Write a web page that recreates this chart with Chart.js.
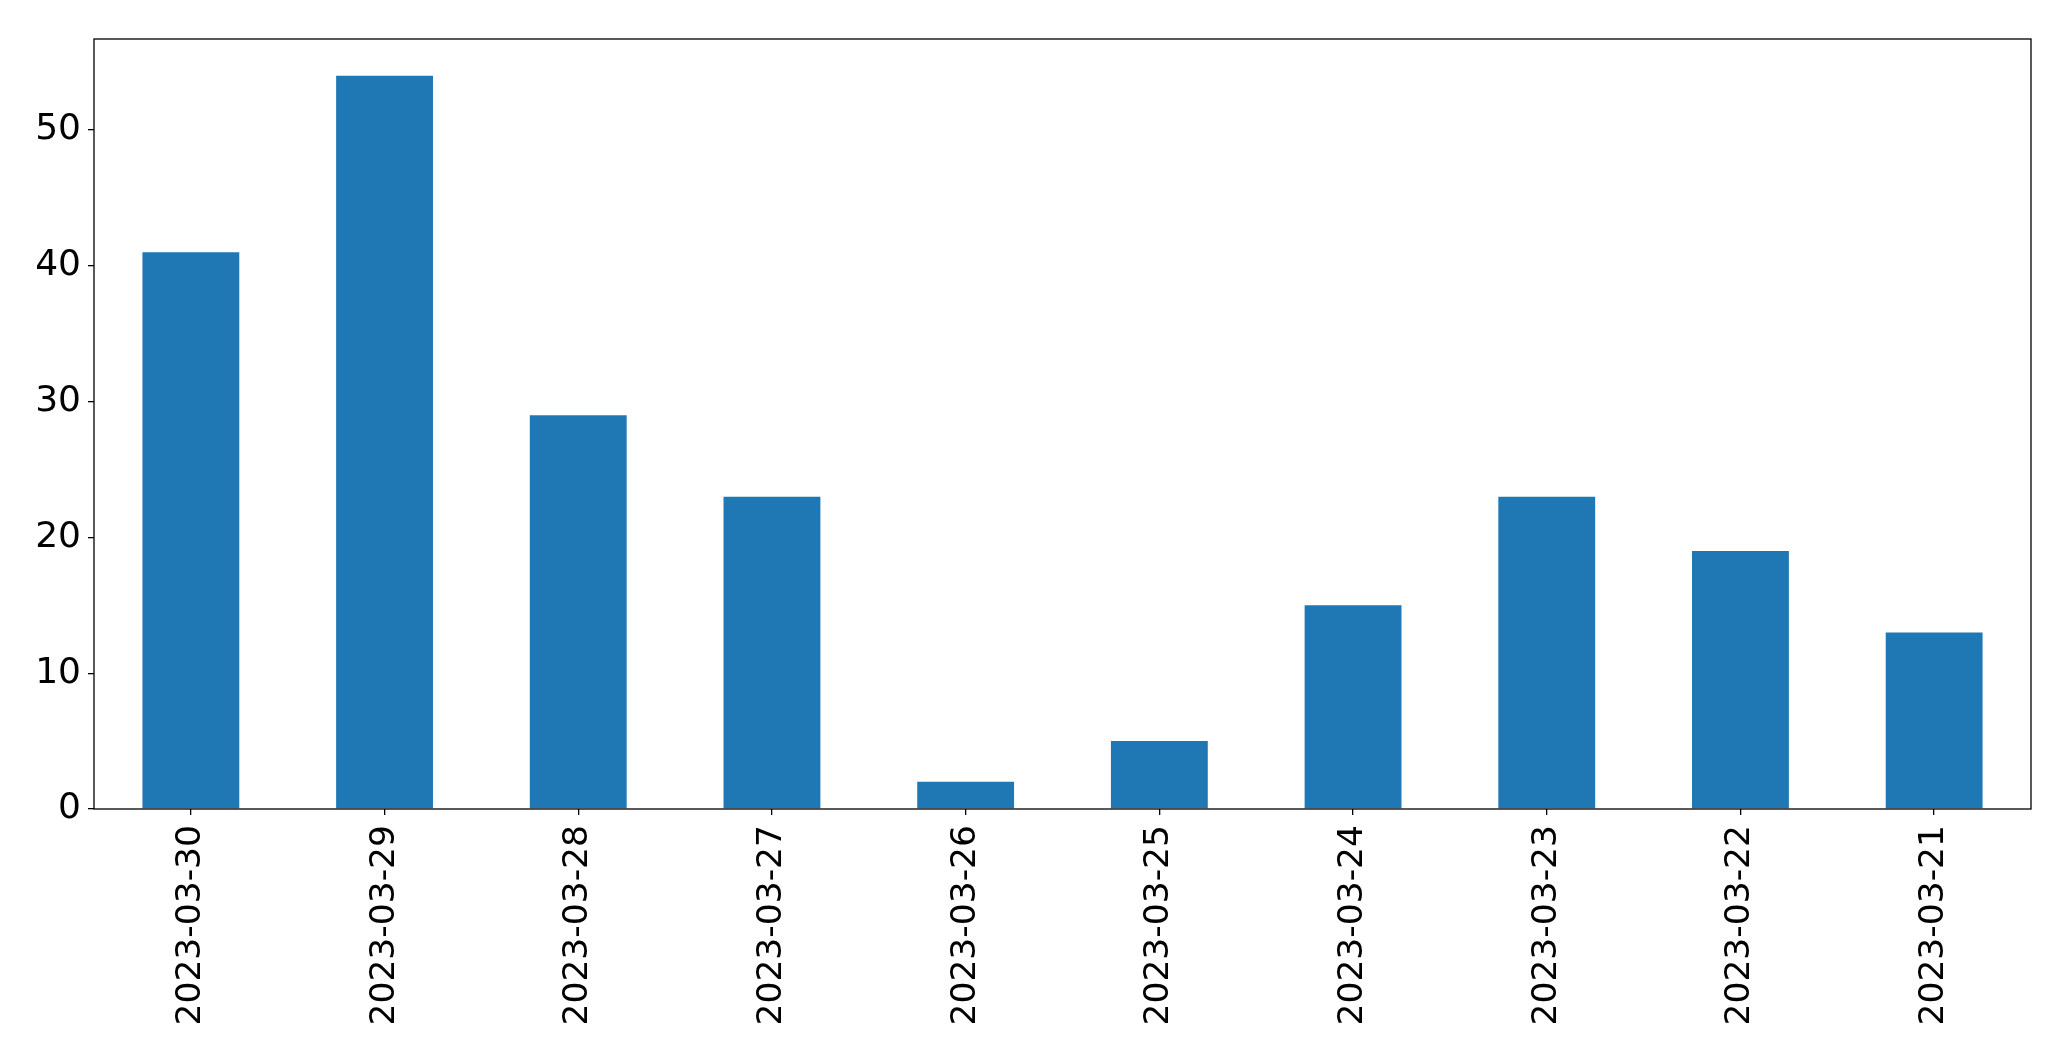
<!DOCTYPE html>
<html>
<head>
<meta charset="utf-8">
<script src="https://cdn.jsdelivr.net/npm/chart.js@4"></script>
<style>
html,body{margin:0;padding:0;background:#fff;}
#wrap{width:2071px;height:1061px;position:relative;}
</style>
</head>
<body>
<div id="wrap"><canvas id="c" width="2071" height="1061"></canvas></div>
<script>
const categories = ["2023-03-30","2023-03-29","2023-03-28","2023-03-27","2023-03-26","2023-03-25","2023-03-24","2023-03-23","2023-03-22","2023-03-21"];
const values = [41, 54, 29, 23, 2, 5, 15, 23, 19, 13];
const yTicks = [0, 10, 20, 30, 40, 50];

const frame = {
  id: 'frame',
  afterDatasetsDraw(chart) {
    const a = chart.chartArea, ctx = chart.ctx;
    ctx.save();
    ctx.strokeStyle = '#000';
    ctx.lineWidth = 1.3;
    ctx.strokeRect(a.left, a.top, a.right - a.left, a.bottom - a.top);
    ctx.restore();
  }
};

new Chart(document.getElementById('c'), {
  type: 'bar',
  data: {
    labels: categories,
    datasets: [{
      data: values,
      backgroundColor: '#1f77b4',
      borderWidth: 0,
      categoryPercentage: 1.0,
      barPercentage: 0.5
    }]
  },
  options: {
    responsive: false,
    animation: false,
    devicePixelRatio: 1,
    layout: { padding: { top: 39, right: 40, left: 0, bottom: 0 } },
    plugins: { legend: { display: false }, tooltip: { enabled: false } },
    scales: {
      x: {
        offset: true,
        grid: { display: true, drawOnChartArea: false, drawTicks: true, tickLength: 6, tickColor: '#000', lineWidth: 1.3, offset: false },
        border: { display: false },
        ticks: {
          color: '#000',
          font: { family: 'DejaVu Sans', size: 34.5 },
          maxRotation: 90, minRotation: 90,
          padding: 10,
          autoSkip: false
        },
        afterFit(s) { s.height = 252; }
      },
      y: {
        min: 0,
        max: 56.7,
        afterBuildTicks(s) { s.ticks = yTicks.map(v => ({ value: v })); },
        grid: { display: true, drawOnChartArea: false, drawTicks: true, tickLength: 6, tickColor: '#000', lineWidth: 1.3 },
        border: { display: false },
        ticks: {
          color: '#000',
          font: { family: 'DejaVu Sans', size: 36 },
          padding: 7
        },
        afterFit(s) { s.width = 94; }
      }
    }
  },
  plugins: [frame]
});
</script>
</body>
</html>
